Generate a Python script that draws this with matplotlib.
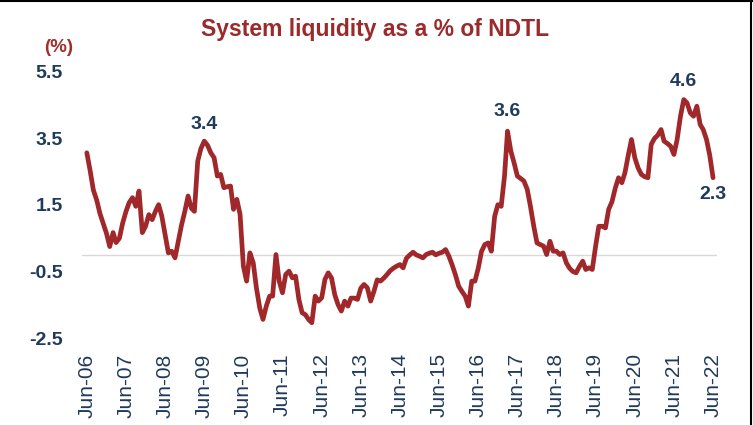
"""System liquidity as a % of NDTL, monthly, Jun-06 to Jun-22."""
import pandas as pd
import matplotlib.pyplot as plt
import matplotlib.dates as mdates
from matplotlib.lines import Line2D

plt.rcParams['font.family'] = ['Liberation Sans', 'DejaVu Sans']

RED = '#A0282A'
NAVY = '#1F3A5C'

# monthly readings, Jun-06 .. Jun-22
liquidity = [
    3.07, 2.55, 1.95, 1.65, 1.25, 0.95, 0.65, 0.25, 0.67, 0.37, 0.50, 0.95,
    1.30, 1.57, 1.72, 1.46, 1.92, 0.67, 0.86, 1.21, 1.06, 1.30, 1.51, 1.16,
    0.60, 0.06, 0.11, -0.09, 0.40, 0.90, 1.30, 1.77, 1.40, 1.31, 2.82, 3.20,
    3.42, 3.30, 3.07, 2.92, 2.37, 2.42, 2.02, 2.05, 2.07, 1.37, 1.67, 1.22,
    -0.34, -0.79, 0.06, -0.24, -1.00, -1.60, -1.94, -1.54, -1.24, -1.24, 0.01, -0.79,
    -1.14, -0.59, -0.49, -0.69, -0.64, -1.34, -1.74, -1.80, -1.95, -2.04, -1.24, -1.39,
    -1.29, -0.74, -0.54, -0.70, -1.20, -1.50, -1.69, -1.39, -1.54, -1.30, -1.30, -1.34,
    -1.00, -0.89, -0.99, -1.39, -1.10, -0.75, -0.79, -0.70, -0.59, -0.48, -0.40, -0.34,
    -0.29, -0.39, -0.10, 0.00, 0.08, 0.00, -0.04, -0.09, 0.01, 0.05, 0.08, 0.00,
    0.05, 0.08, 0.16, -0.04, -0.30, -0.60, -0.94, -1.10, -1.25, -1.54, -0.79, -0.79,
    -0.40, 0.10, 0.31, 0.36, 0.11, 1.16, 1.51, 1.46, 2.37, 3.72, 3.12, 2.77,
    2.37, 2.30, 2.22, 1.97, 1.46, 0.86, 0.36, 0.31, 0.26, 0.01, 0.41, 0.11,
    0.11, 0.01, 0.06, -0.24, -0.40, -0.50, -0.54, -0.35, -0.19, -0.44, -0.39, -0.44,
    0.26, 0.86, 0.86, 0.81, 1.37, 1.60, 2.00, 2.32, 2.17, 2.47, 3.00, 3.47,
    2.92, 2.62, 2.42, 2.35, 2.32, 3.32, 3.50, 3.60, 3.77, 3.42, 3.35, 3.27,
    3.02, 3.47, 4.17, 4.67, 4.57, 4.27, 4.17, 4.47, 3.92, 3.77, 3.47, 3.00,
    2.32,
]
dates = pd.date_range('2006-06-01', periods=len(liquidity), freq='MS')

y_ticks = [-2.5, -0.5, 1.5, 3.5, 5.5]
# (month index, label, offset in points)
labels = [(36, '3.4', 12), (129, '3.6', 14), (183, '4.6', 13), (192, '2.3', -12)]

fig = plt.figure(figsize=(7.53, 4.25), dpi=100)
ax = fig.add_axes([0.1089, 0.2047, 0.8433, 0.6259])

ax.axhline(0, color='#D9D9D9', lw=1, zorder=1)
ax.plot(dates, liquidity, color=RED, lw=3.4, solid_joinstyle='round',
        solid_capstyle='round', zorder=3)

for i, txt, dy in labels:
    ax.annotate(txt, (dates[i], liquidity[i]), xytext=(0, dy),
                textcoords='offset points', ha='center', va='center',
                fontsize=14, fontweight='bold', color=NAVY)

ax.set_ylim(-2.5, 5.5)
ax.set_yticks(y_ticks)
ax.set_yticklabels([str(v) for v in y_ticks], fontsize=14,
                   fontweight='bold', color=NAVY)

ax.set_xlim(dates[0] - pd.Timedelta(days=45), dates[-1] + pd.Timedelta(days=37))
ax.set_xticks(pd.date_range('2006-06-01', '2022-06-01', freq='12MS'))
ax.xaxis.set_major_formatter(mdates.DateFormatter('%b-%y'))
plt.setp(ax.get_xticklabels(), rotation=90, fontsize=15, color=NAVY)

ax.tick_params(axis='both', length=0)
ax.tick_params(axis='y', pad=14)
ax.tick_params(axis='x', pad=11)
for s in ax.spines.values():
    s.set_visible(False)

fig.text(0.498, 0.93, 'System liquidity as a % of NDTL', ha='center', va='center',
         fontsize=16.5, fontweight='bold', color='#9B2A2A')
fig.text(0.097, 0.888, '(%)', ha='right', va='center',
         fontsize=13.5, fontweight='bold', color='#A0302A')

# screenshot frame on top and right edges
fig.add_artist(Line2D([0, 1], [0.998, 0.998], color='black', lw=1.5,
                      transform=fig.transFigure))
fig.add_artist(Line2D([0.998, 0.998], [0, 1], color='black', lw=1.5,
                      transform=fig.transFigure))

fig.savefig('out.png', dpi=100)
